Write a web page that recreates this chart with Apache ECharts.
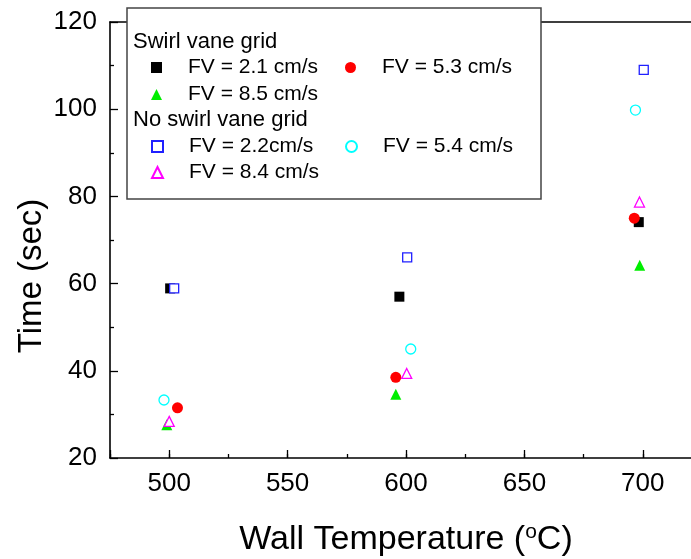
<!DOCTYPE html>
<html>
<head>
<meta charset="utf-8">
<script src="https://cdn.jsdelivr.net/npm/echarts@6/dist/echarts.min.js"></script>
<style>html,body{margin:0;padding:0;background:#fff;}#c{width:691px;height:559px;}</style>
</head>
<body>
<div id="c"></div>
<script>
// ---- data ----
var xTicks = [500, 550, 600, 650, 700];
var yTicks = [20, 40, 60, 80, 100, 120];

var sw21X = [500.4, 597.2, 698.3];
var sw21Y = [58.9, 57.0, 74.1];
var sw53X = [503.5, 595.7, 696.4];
var sw53Y = [31.5, 38.5, 75.0];
var sw85X = [499.0, 595.7, 698.7];
var sw85Y = [27.6, 34.6, 64.2];

var ns22X = [502.1, 600.5, 700.4];
var ns22Y = [58.9, 66.0, 109.0];
var ns54X = [497.8, 602.0, 696.9];
var ns54Y = [33.3, 45.0, 99.8];
var ns84X = [500.0, 600.3, 698.6];
var ns84Y = [28.4, 39.4, 78.7];

var groupTitles = ['Swirl vane grid', 'No swirl vane grid'];
var seriesNames = ['FV = 2.1 cm/s', 'FV = 5.3 cm/s', 'FV = 8.5 cm/s',
                   'FV = 2.2cm/s', 'FV = 5.4 cm/s', 'FV = 8.4 cm/s'];

function pairs(xs, ys) { return xs.map(function (x, i) { return [x, ys[i]]; }); }

var FONT = "'Liberation Sans', Arial, sans-serif";
var chart = echarts.init(document.getElementById('c'), null, {renderer: 'canvas'});

function sc(name, xs, ys, symbol, size, fill, border) {
  return {
    name: name, type: 'scatter', data: pairs(xs, ys),
    symbol: symbol, symbolSize: size,
    itemStyle: {color: fill, borderColor: border, borderWidth: border ? 1.3 : 0, opacity: 1},
    emphasis: {disabled: true}
  };
}

function leg(name, left, top) {
  return {
    data: [name], left: left, top: top, orient: 'horizontal',
    itemWidth: 11, itemHeight: 11, padding: 0,
    selectedMode: false, z: 20,
    textStyle: {fontFamily: FONT, fontSize: 21, color: '#000', padding: [0, 0, 0, 21]}
  };
}

var GRID = {left: 110, top: 22, width: 592, height: 436};
var XMIN = 475, XMAX = 725, YMIN = 20, YMAX = 120;

var option = {
  backgroundColor: '#fff',
  animation: false,
  grid: {left: GRID.left, top: GRID.top, width: GRID.width, height: GRID.height,
         containLabel: false, outerBoundsMode: 'none'},
  xAxis: [{
    type: 'value', min: XMIN, max: XMAX, splitNumber: 5,
    axisLine: {show: true, onZero: false, lineStyle: {color: '#000', width: 1.6}},
    axisTick: {show: true, inside: true, length: 8, lineStyle: {color: '#000', width: 1.3}},
    splitLine: {show: false},
    axisLabel: {fontFamily: FONT, fontSize: 26, color: '#000', margin: 13,
      formatter: function (v) { return xTicks.indexOf(v) >= 0 ? String(v) : ''; }},
    name: 'Wall Temperature ({sup|o}C)',
    nameLocation: 'middle', nameGap: 64,
    nameTextStyle: {fontFamily: FONT, fontSize: 34, color: '#000',
      rich: {sup: {fontFamily: FONT, fontSize: 21, color: '#000', verticalAlign: 'top', padding: [0, 0, 14, 0]}}}
  }, {
    // minor ticks every 25 on the bottom edge
    type: 'value', position: 'bottom', min: XMIN, max: XMAX, interval: 25,
    axisLine: {show: false}, axisLabel: {show: false}, splitLine: {show: false},
    axisTick: {show: true, inside: true, length: 4, lineStyle: {color: '#000', width: 1.3}}
  }, {
    type: 'value', position: 'top', min: XMIN, max: XMAX,
    axisLine: {show: true, onZero: false, lineStyle: {color: '#000', width: 1.6}},
    axisTick: {show: false}, axisLabel: {show: false}, splitLine: {show: false}
  }],
  yAxis: [{
    type: 'value', min: YMIN, max: YMAX, interval: 20,
    axisLine: {show: true, onZero: false, lineStyle: {color: '#000', width: 1.6}},
    axisTick: {show: true, inside: true, length: 8, lineStyle: {color: '#000', width: 1.3}},
    minorTick: {show: true, splitNumber: 2, length: 4, lineStyle: {color: '#000', width: 1.3}},
    splitLine: {show: false},
    axisLabel: {fontFamily: FONT, fontSize: 26, color: '#000', margin: 13,
      formatter: function (v) { return yTicks.indexOf(v) >= 0 ? String(v) : ''; }},
    name: 'Time (sec)', nameLocation: 'middle', nameGap: 62, nameRotate: 90,
    nameMoveOverlap: false,
    nameTextStyle: {fontFamily: FONT, fontSize: 33, color: '#000', padding: [0, 72, 0, 0]}
  }, {
    type: 'value', position: 'right', min: YMIN, max: YMAX, interval: 20,
    axisLine: {show: true, onZero: false, lineStyle: {color: '#000', width: 1.6}},
    axisTick: {show: false}, axisLabel: {show: false}, splitLine: {show: false}
  }],
  legend: [
    leg(seriesNames[0], 151, 57),
    leg(seriesNames[1], 345, 57),
    leg(seriesNames[2], 151, 84),
    leg(seriesNames[3], 151, 136),
    leg(seriesNames[4], 345, 136),
    leg(seriesNames[5], 151, 162)
  ],
  graphic: [
    {type: 'rect', z: 10, shape: {x: 127, y: 8, width: 414, height: 191},
     style: {fill: '#fff', stroke: '#444', lineWidth: 1.5}},
    {type: 'text', z: 11, left: 133, top: 31,
     style: {text: groupTitles[0], font: '22px ' + FONT, fill: '#000'}},
    {type: 'text', z: 11, left: 133, top: 109,
     style: {text: groupTitles[1], font: '22px ' + FONT, fill: '#000'}}
  ],
  series: [
    sc(seriesNames[0], sw21X, sw21Y, 'rect', 10, '#000000', null),
    sc(seriesNames[1], sw53X, sw53Y, 'circle', 11, '#ff0000', null),
    sc(seriesNames[2], sw85X, sw85Y, 'triangle', 11, '#00ee00', null),
    sc(seriesNames[3], ns22X, ns22Y, 'rect', 9, '#ffffff', '#2020ff'),
    sc(seriesNames[4], ns54X, ns54Y, 'circle', 10, '#ffffff', '#00ffff'),
    sc(seriesNames[5], ns84X, ns84Y, 'triangle', 10, '#ffffff', '#ff00ff')
  ]
};
chart.setOption(option);
</script>
</body>
</html>
